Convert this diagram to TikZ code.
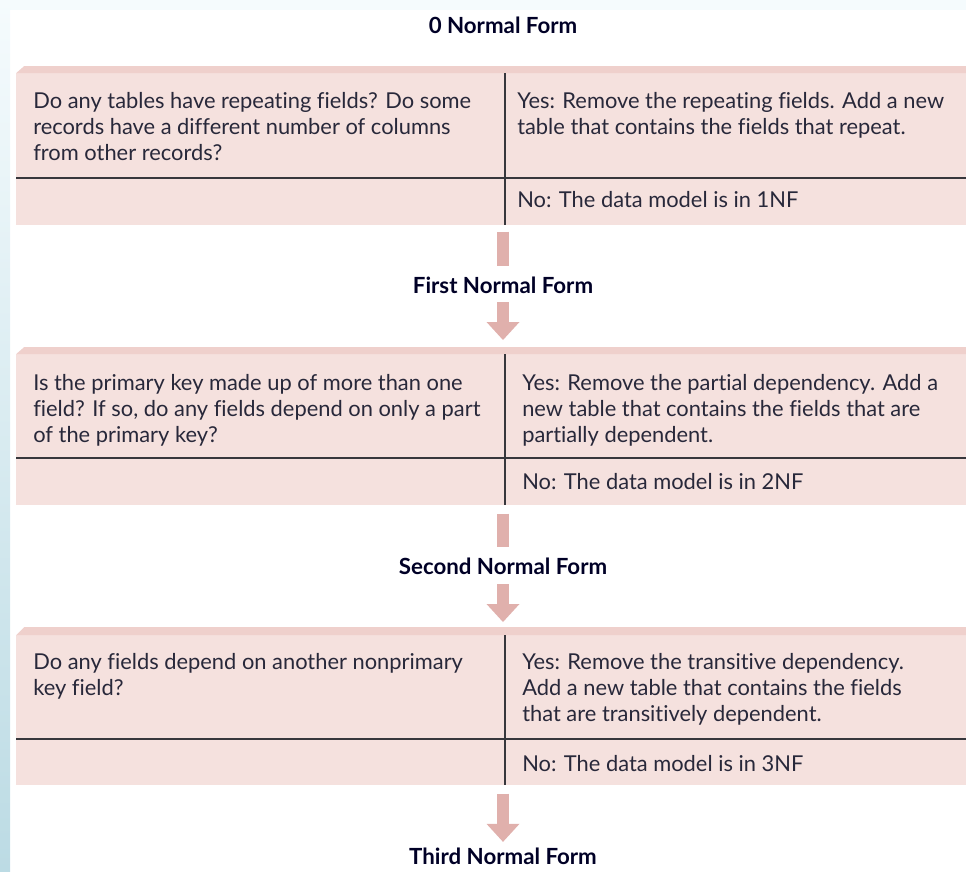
\documentclass[tikz,border=0pt]{standalone}
\usepackage{fontspec}
\setmainfont{Lato}[Ligatures=NoCommon]
\usetikzlibrary{arrows.meta}

\definecolor{bandpink}{RGB}{239,208,204}
\definecolor{bodypink}{RGB}{245,225,222}
\definecolor{arrowpink}{RGB}{224,176,172}
\definecolor{rulegray}{RGB}{55,55,60}
\definecolor{inkblue}{RGB}{40,40,58}
\definecolor{edgeblue}{RGB}{188,219,228}
\definecolor{paleblue}{RGB}{245,251,253}

\tikzset{
  tablebox/.style={fill=bodypink, anchor=north west, inner sep=0pt, minimum width=712.5pt},
  % cells are placed at the baseline of their last line
  cell/.style={anchor=base west, inner sep=0pt, align=left, text=inkblue, font=\fontsize{16.4}{19.5}\selectfont},
  formlabel/.style={anchor=base, inner sep=0pt, text=black!85!blue, font=\bfseries\fontsize{16.7}{19.5}\selectfont},
  rule/.style={draw=rulegray, line width=1.1pt},
  bar/.style={draw=arrowpink, line width=9pt},
  bararrow/.style={bar, -{Triangle[width=24.75pt, length=13.5pt, line width=0pt]}}
}

\begin{document}
\begin{tikzpicture}[x=0.75pt, y=-0.75pt]
  \useasboundingbox (0,0) rectangle (966,871);
  % page edge
  \fill[paleblue] (0,0) rectangle (966,10);
  \shade[top color=paleblue, bottom color=edgeblue] (0,0) rectangle (10,871);

  \node[formlabel] (nf0) at (503,33) {0 Normal Form};

  % table 1
  \node[tablebox, minimum height=119.25pt] (tab1) at (16,66) {};
  \fill[bandpink] (16,73) -- (24,66) -- (966,66) -- (966,73) -- cycle;
  \fill[white] (16,66) -- (24,66) -- (16,73) -- cycle;
  \draw[rule] (16,178) -- (966,178);
  \draw[rule] (505,73) -- (505,225);
  \node[cell] (q1) at (33,160) {Do any tables have repeating fields? Do some\\records have a different number of columns\\from other records?};
  \node[cell] (yes1) at (517,134) {Yes: Remove the repeating fields. Add a new\\table that contains the fields that repeat.};
  \node[cell] (no1) at (517,207) {No: The data model is in 1NF};

  \node[formlabel] (nf1) at (503,293) {First Normal Form};

  % table 2
  \node[tablebox, minimum height=118.5pt] (tab2) at (16,347) {};
  \fill[bandpink] (16,354) -- (24,347) -- (966,347) -- (966,354) -- cycle;
  \fill[white] (16,347) -- (24,347) -- (16,354) -- cycle;
  \draw[rule] (16,458) -- (966,458);
  \draw[rule] (505,354) -- (505,505);
  \node[cell] (q2) at (33,442) {Is the primary key made up of more than one\\field? If so, do any fields depend on only a part\\of the primary key?};
  \node[cell] (yes2) at (522,442) {Yes: Remove the partial dependency. Add a\\new table that contains the fields that are\\partially dependent.};
  \node[cell] (no2) at (522,489) {No: The data model is in 2NF};

  \node[formlabel] (nf2) at (503,574) {Second Normal Form};

  % table 3
  \node[tablebox, minimum height=118.5pt] (tab3) at (16,627) {};
  \fill[bandpink] (16,635) -- (24,627) -- (966,627) -- (966,635) -- cycle;
  \fill[white] (16,627) -- (24,627) -- (16,635) -- cycle;
  \draw[rule] (16,739) -- (966,739);
  \draw[rule] (505,635) -- (505,785);
  \node[cell] (q3) at (33,695) {Do any fields depend on another nonprimary\\key field?};
  \node[cell] (yes3) at (522,721) {Yes: Remove the transitive dependency.\\Add a new table that contains the fields\\that are transitively dependent.};
  \node[cell] (no3) at (522,771) {No: The data model is in 3NF};

  \node[formlabel] (nf3) at (503,864) {Third Normal Form};

  % arrows
  \draw[bar, shorten <=4.5pt, shorten >=7.5pt] (tab1.south -| nf1) -- (nf1.north);
  \draw[bararrow, shorten <=6.75pt, shorten >=5.25pt] (nf1.south) -- (tab2.north -| nf1);
  \draw[bar, shorten <=6pt, shorten >=7.5pt] (tab2.south -| nf2) -- (nf2.north);
  \draw[bararrow, shorten <=7.5pt, shorten >=3.75pt] (nf2.south) -- (tab3.north -| nf2);
  \draw[bararrow, shorten <=6pt, shorten >=4pt] (tab3.south -| nf3) -- (nf3.north);
\end{tikzpicture}
\end{document}
